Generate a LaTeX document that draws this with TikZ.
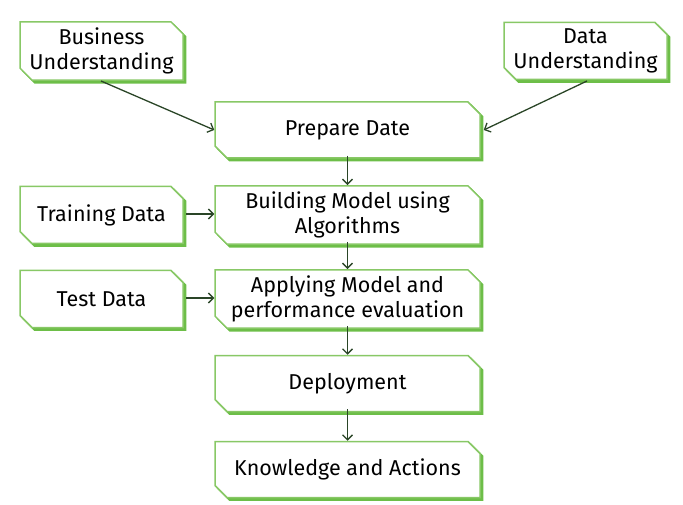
\documentclass[tikz,border=0pt]{standalone}
\usepackage{fontspec}
\setmainfont{Fira Sans}
\usetikzlibrary{shapes.misc,shadows,arrows.meta}
\definecolor{boxline}{HTML}{88C866}
\definecolor{boxshadow}{HTML}{6DBE48}
\definecolor{arrowc}{HTML}{2A4527}
\tikzset{
  cbox/.style={chamfered rectangle, chamfered rectangle corners={north east,south west},
    chamfered rectangle xsep=6pt, chamfered rectangle ysep=6pt,
    draw=boxline, line width=1.5pt, fill=white, inner sep=0pt,
    align=center, font=\fontsize{21.5}{25}\selectfont,
    general shadow={fill=boxshadow, draw=boxshadow, line width=1.5pt, shadow xshift=2.6pt, shadow yshift=-2.6pt}},
  mainbox/.style={cbox, minimum width=265pt, minimum height=56pt},
  sidebox/.style={cbox, minimum width=163pt, minimum height=57pt},
  conn/.style={draw=arrowc, line width=1.3pt, -{Straight Barb[length=5pt,width=10pt,line width=1.3pt]}}
}
\begin{document}
\begin{tikzpicture}[x=1pt,y=-1pt]
\useasboundingbox (0,0) rectangle (683,505);
\node[sidebox] (bu) at (101.5,51) {Business\\Understanding};
\node[sidebox] (du) at (585.5,51) {Data\\Understanding};
\node[mainbox] (pd) at (347.5,130) {Prepare Date};
\node[mainbox] (bm) at (347.5,215) {Building Model using\\Algorithms};
\node[sidebox] (td) at (101.5,215) {Training Data};
\node[mainbox] (am) at (347.5,299) {Applying Model and\\performance evaluation};
\node[sidebox] (te) at (101.5,299) {Test Data};
\node[mainbox] (dp) at (347.5,383.5) {Deployment};
\node[mainbox] (ka) at (347.5,469.5) {Knowledge and Actions};
\coordinate (bus) at (101,81);
\coordinate (dus) at (587,81);
\draw[conn] (bus) -- (pd.west);
\draw[conn] (dus) -- ([xshift=3pt]pd.east);
\draw[conn] ([yshift=1pt,xshift=2.5pt]td.east) -- ([yshift=1pt]bm.west);
\draw[conn] ([yshift=1pt,xshift=2.5pt]te.east) -- ([yshift=1pt]am.west);
\draw[conn] ([yshift=3pt]pd.south) -- (bm.north);
\draw[conn] ([yshift=3pt]bm.south) -- (am.north);
\draw[conn] ([yshift=3pt]am.south) -- (dp.north);
\draw[conn] ([yshift=3pt]dp.south) -- (ka.north);
\end{tikzpicture}
\end{document}
